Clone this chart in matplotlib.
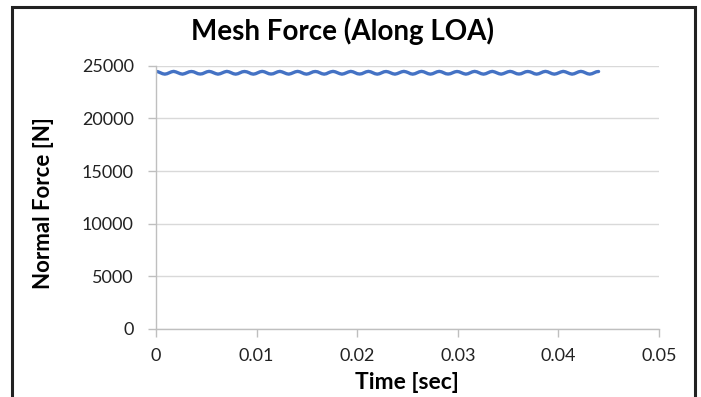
import matplotlib
matplotlib.use("Agg")
import matplotlib.pyplot as plt
from matplotlib.patches import Rectangle

# ---- data ----
time_s = [
    0.00000, 0.00022, 0.00044, 0.00066, 0.00088, 0.00110, 0.00132, 0.00154,
    0.00176, 0.00198, 0.00220, 0.00242, 0.00264, 0.00286, 0.00308, 0.00330,
    0.00352, 0.00374, 0.00396, 0.00418, 0.00440, 0.00462, 0.00484, 0.00506,
    0.00528, 0.00550, 0.00572, 0.00594, 0.00616, 0.00638, 0.00660, 0.00682,
    0.00704, 0.00726, 0.00748, 0.00770, 0.00792, 0.00814, 0.00836, 0.00858,
    0.00880, 0.00902, 0.00924, 0.00946, 0.00968, 0.00990, 0.01012, 0.01034,
    0.01056, 0.01078, 0.01100, 0.01122, 0.01144, 0.01166, 0.01188, 0.01210,
    0.01232, 0.01254, 0.01276, 0.01298, 0.01320, 0.01342, 0.01364, 0.01386,
    0.01408, 0.01430, 0.01452, 0.01474, 0.01496, 0.01518, 0.01540, 0.01562,
    0.01584, 0.01606, 0.01628, 0.01650, 0.01672, 0.01694, 0.01716, 0.01738,
    0.01760, 0.01782, 0.01804, 0.01826, 0.01848, 0.01870, 0.01892, 0.01914,
    0.01936, 0.01958, 0.01980, 0.02002, 0.02024, 0.02046, 0.02068, 0.02090,
    0.02112, 0.02134, 0.02156, 0.02178, 0.02200, 0.02222, 0.02244, 0.02266,
    0.02288, 0.02310, 0.02332, 0.02354, 0.02376, 0.02398, 0.02420, 0.02442,
    0.02464, 0.02486, 0.02508, 0.02530, 0.02552, 0.02574, 0.02596, 0.02618,
    0.02640, 0.02662, 0.02684, 0.02706, 0.02728, 0.02750, 0.02772, 0.02794,
    0.02816, 0.02838, 0.02860, 0.02882, 0.02904, 0.02926, 0.02948, 0.02970,
    0.02992, 0.03014, 0.03036, 0.03058, 0.03080, 0.03102, 0.03124, 0.03146,
    0.03168, 0.03190, 0.03212, 0.03234, 0.03256, 0.03278, 0.03300, 0.03322,
    0.03344, 0.03366, 0.03388, 0.03410, 0.03432, 0.03454, 0.03476, 0.03498,
    0.03520, 0.03542, 0.03564, 0.03586, 0.03608, 0.03630, 0.03652, 0.03674,
    0.03696, 0.03718, 0.03740, 0.03762, 0.03784, 0.03806, 0.03828, 0.03850,
    0.03872, 0.03894, 0.03916, 0.03938, 0.03960, 0.03982, 0.04004, 0.04026,
    0.04048, 0.04070, 0.04092, 0.04114, 0.04136, 0.04158, 0.04180, 0.04202,
    0.04224, 0.04246, 0.04268, 0.04290, 0.04312, 0.04334, 0.04356, 0.04378,
    0.04400,
]
normal_force = [
    24460, 24420, 24330, 24240, 24200, 24240, 24330, 24420,
    24460, 24410, 24330, 24240, 24200, 24250, 24330, 24420,
    24450, 24420, 24330, 24240, 24210, 24240, 24330, 24420,
    24460, 24420, 24330, 24250, 24200, 24240, 24330, 24410,
    24460, 24420, 24330, 24240, 24200, 24240, 24330, 24420,
    24450, 24420, 24340, 24240, 24200, 24240, 24330, 24420,
    24460, 24420, 24330, 24240, 24210, 24240, 24330, 24420,
    24460, 24410, 24330, 24240, 24200, 24250, 24330, 24420,
    24460, 24420, 24330, 24240, 24200, 24240, 24330, 24420,
    24450, 24420, 24330, 24240, 24200, 24240, 24340, 24420,
    24460, 24420, 24330, 24250, 24200, 24240, 24330, 24410,
    24460, 24420, 24330, 24240, 24210, 24240, 24330, 24420,
    24460, 24420, 24330, 24240, 24200, 24240, 24330, 24420,
    24450, 24410, 24330, 24240, 24200, 24250, 24330, 24420,
    24460, 24420, 24340, 24240, 24200, 24240, 24330, 24420,
    24460, 24420, 24330, 24240, 24200, 24240, 24330, 24420,
    24460, 24420, 24330, 24240, 24210, 24240, 24330, 24410,
    24450, 24420, 24330, 24250, 24200, 24240, 24330, 24420,
    24460, 24420, 24330, 24240, 24200, 24240, 24330, 24420,
    24460, 24410, 24330, 24240, 24200, 24250, 24330, 24420,
    24460, 24420, 24330, 24240, 24210, 24240, 24330, 24420,
    24450, 24420, 24340, 24240, 24200, 24240, 24330, 24420,
    24460, 24420, 24330, 24240, 24200, 24240, 24330, 24410,
    24460, 24420, 24330, 24250, 24200, 24240, 24330, 24420,
    24460, 24420, 24330, 24240, 24200, 24240, 24330, 24420,
    24450,
]
x_ticks = [0, 0.01, 0.02, 0.03, 0.04, 0.05]
x_tick_labels = ["0", "0.01", "0.02", "0.03", "0.04", "0.05"]
y_ticks = [0, 5000, 10000, 15000, 20000, 25000]
y_tick_labels = ["0", "5000", "10000", "15000", "20000", "25000"]

plt.rcParams['font.family'] = ['Lato', 'DejaVu Sans']

fig = plt.figure(figsize=(7.01, 3.97), dpi=100)
ax = fig.add_axes([0.2225, 0.1713, 0.7175, 0.6632])

ax.plot(time_s, normal_force, color="#4472C4", linewidth=2.4,
        solid_capstyle="round", solid_joinstyle="round")

ax.set_xlim(0, 0.05)
ax.set_ylim(0, 25000)
ax.set_xticks(x_ticks)
ax.set_xticklabels(x_tick_labels)
ax.set_yticks(y_ticks)
ax.set_yticklabels(y_tick_labels)

ax.grid(axis="y", color="#d9d9d9", linewidth=1.0)
ax.set_axisbelow(True)
for s in ["top", "right"]:
    ax.spines[s].set_visible(False)
for s in ["left", "bottom"]:
    ax.spines[s].set_color("#bfbfbf")
    ax.spines[s].set_linewidth(1.0)
ax.tick_params(axis="both", direction="out", color="#bfbfbf", length=6, width=1.0,
               labelsize=13, labelcolor="#222222")
ax.tick_params(axis="y", pad=10)
ax.tick_params(axis="x", pad=8)

ax.set_xlabel("Time [sec]", fontsize=16.5, fontweight="bold", va="center")
ax.xaxis.set_label_coords(0.499, -0.2015)
ax.set_ylabel("Normal Force [N]", fontsize=16, fontweight="bold", va="center")
ax.yaxis.set_label_coords(-0.2227, 0.477)
fig.text(0.488, 0.922, "Mesh Force (Along LOA)", fontsize=20, fontweight="bold",
         ha="center", va="center")

# outer chart border (cut at the bottom of the image)
fig.patches.append(Rectangle((11.5 / 701, -0.05), (694.5 - 11.5) / 701, 1 - 6.5 / 397 + 0.05,
                             transform=fig.transFigure, fill=False, edgecolor="#222222",
                             linewidth=2.2))

fig.savefig("out.png", dpi=100)
